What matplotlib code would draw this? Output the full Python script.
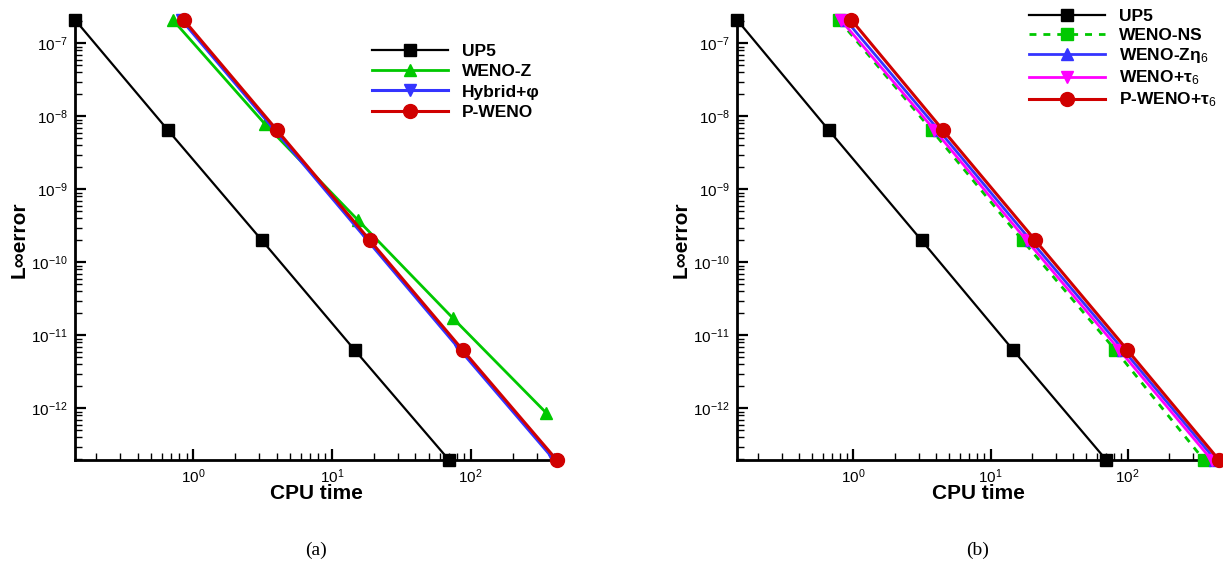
import matplotlib
matplotlib.use("Agg")
import matplotlib.pyplot as plt
from matplotlib.ticker import LogLocator, LogFormatterSciNotation, NullFormatter

plt.rcParams['font.family'] = ['Liberation Sans', 'DejaVu Sans']
plt.rcParams['mathtext.fontset'] = 'custom'
plt.rcParams['mathtext.rm'] = 'Liberation Sans'
plt.rcParams['mathtext.it'] = 'Liberation Sans:italic'
plt.rcParams['mathtext.bf'] = 'Liberation Sans:bold'

# CPU time / L-infinity error for each scheme
up5_cpu = [0.142, 0.66, 3.14, 14.6, 69.8]
up5_err = [2.09e-7, 6.5e-9, 2.0e-10, 6.3e-12, 1.96e-13]

wenoz_cpu = [0.718, 3.3, 15.4, 74.2, 350]
wenoz_err = [2.09e-7, 7.85e-9, 3.8e-10, 1.73e-11, 8.65e-13]

hybrid_cpu = [0.83, 3.88, 18.1, 84.0, 400]
hybrid_err = [2.09e-7, 6.5e-9, 2.0e-10, 6.3e-12, 1.96e-13]

pweno_cpu = [0.86, 4.02, 18.8, 87.5, 416]
pweno_err = [2.09e-7, 6.5e-9, 2.0e-10, 6.3e-12, 1.96e-13]

# panel (b)
wenons_cpu = [0.785, 3.71, 17.1, 81.1, 360]
wenons_err = [2.09e-7, 6.5e-9, 2.0e-10, 6.3e-12, 1.96e-13]

wenozeta_cpu = [0.88, 4.18, 19.6, 93.0, 436]
wenozeta_err = [2.09e-7, 6.5e-9, 2.0e-10, 6.3e-12, 1.96e-13]

wenotau_cpu = [0.81, 3.9, 18.3, 87.0, 410]
wenotau_err = [2.09e-7, 6.5e-9, 2.0e-10, 6.3e-12, 1.96e-13]

pwenotau_cpu = [0.967, 4.49, 21.2, 99.4, 463]
pwenotau_err = [2.09e-7, 6.5e-9, 2.0e-10, 6.3e-12, 1.96e-13]

GREEN = '#00c800'
BLUE = '#3434ff'
RED = '#d00000'
MAGENTA = '#ff00ff'

LEG_FONT = {'weight': 'bold', 'size': 12.5}


def style_axes(ax, xmax):
    ax.set_xscale('log')
    ax.set_yscale('log')
    ax.set_xlim(0.1416, xmax)
    ax.set_ylim(1.96e-13, 2.09e-7)
    for side in ('top', 'right'):
        ax.spines[side].set_visible(False)
    for side in ('left', 'bottom'):
        ax.spines[side].set_linewidth(2.0)
    ax.xaxis.set_major_locator(LogLocator(base=10, numticks=20))
    ax.xaxis.set_minor_locator(LogLocator(base=10, subs=range(2, 10), numticks=20))
    ax.yaxis.set_major_locator(LogLocator(base=10, numticks=20))
    ax.yaxis.set_minor_locator(LogLocator(base=10, subs=range(2, 10), numticks=20))
    ax.xaxis.set_major_formatter(LogFormatterSciNotation())
    ax.yaxis.set_major_formatter(LogFormatterSciNotation())
    ax.xaxis.set_minor_formatter(NullFormatter())
    ax.yaxis.set_minor_formatter(NullFormatter())
    ax.tick_params(which='major', direction='in', length=8, width=1.6,
                   labelsize=11, top=False, right=False, pad=5)
    ax.tick_params(which='minor', direction='in', length=5, width=1.0,
                   top=False, right=False)
    ax.set_xlabel('CPU time', fontsize=15, fontweight='bold', labelpad=-1)
    ax.set_ylabel('L∞error', fontsize=15, fontweight='bold', labelpad=2)


fig = plt.figure(figsize=(12.23, 5.68), dpi=100)
ax1 = fig.add_axes([75 / 1223, 108 / 568, 482 / 1223, 440 / 568])
ax2 = fig.add_axes([737 / 1223, 108 / 568, 482 / 1223, 440 / 568])

# (a)
ax1.plot(up5_cpu, up5_err, color='black', lw=1.6, marker='s', ms=8.5,
         label='UP5', clip_on=False, zorder=3)
ax1.plot(wenoz_cpu, wenoz_err, color=GREEN, lw=2.0, marker='^', ms=9,
         label='WENO-Z', clip_on=False, zorder=3)
ax1.plot(hybrid_cpu, hybrid_err, color=BLUE, lw=2.2, marker='v', ms=9,
         label='Hybrid+φ', clip_on=False, zorder=4)
ax1.plot(pweno_cpu, pweno_err, color=RED, lw=2.2, marker='o', ms=10,
         label='P-WENO', clip_on=False, zorder=5)
style_axes(ax1, 418)
ax1.legend(loc='upper left', bbox_to_anchor=(0.601, 0.962), frameon=False,
           handlelength=4.4, handletextpad=0.8, labelspacing=0.3,
           borderaxespad=0.0, prop=LEG_FONT)

# (b)
ax2.plot(up5_cpu, up5_err, color='black', lw=1.6, marker='s', ms=8.5,
         label='UP5', clip_on=False, zorder=3)
ax2.plot(wenons_cpu, wenons_err, color=GREEN, lw=2.0, ls=(0, (2.5, 2.5)),
         marker='s', ms=8.5, label='WENO-NS', clip_on=False, zorder=3)
ax2.plot(wenozeta_cpu, wenozeta_err, color=BLUE, lw=2.0, marker='^', ms=9,
         label='WENO-Zη$_6$', clip_on=False, zorder=4)
ax2.plot(wenotau_cpu, wenotau_err, color=MAGENTA, lw=2.0, marker='v', ms=9,
         label='WENO+τ$_6$', clip_on=False, zorder=4)
ax2.plot(pwenotau_cpu, pwenotau_err, color=RED, lw=2.2, marker='o', ms=10,
         label='P-WENO+τ$_6$', clip_on=False, zorder=5)
style_axes(ax2, 463)
ax2.legend(loc='upper left', bbox_to_anchor=(0.591, 1.041), frameon=False,
           handlelength=4.4, handletextpad=0.8, labelspacing=0.2,
           borderaxespad=0.0, prop=LEG_FONT)

fig.text(316 / 1223, 1 - 550 / 568, '(a)', ha='center', va='center',
         fontsize=14, family='Liberation Serif')
fig.text(978 / 1223, 1 - 550 / 568, '(b)', ha='center', va='center',
         fontsize=14, family='Liberation Serif')

fig.savefig('out.png', dpi=100)
